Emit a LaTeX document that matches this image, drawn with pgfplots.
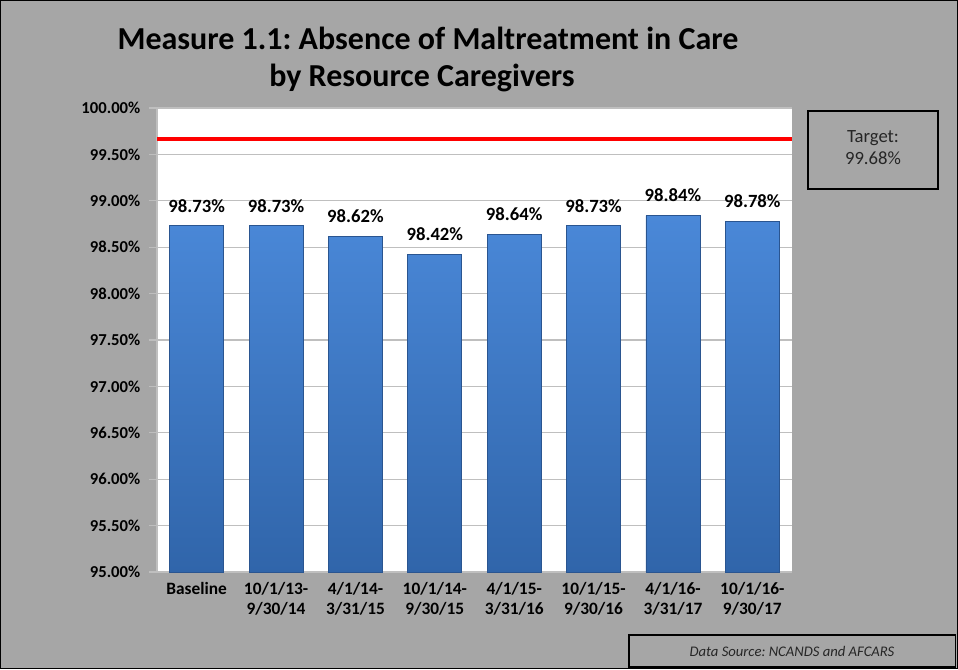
\documentclass[border=0pt]{standalone}
\usepackage{pgfplots}
\pgfplotsset{compat=1.18}
\usepackage{fontspec}
\setmainfont{Carlito}
\frenchspacing
\definecolor{bgc}{HTML}{A6A6A6}
\definecolor{bartop}{HTML}{4A88D8}
\definecolor{barbot}{HTML}{3065AA}
\definecolor{baredge}{HTML}{2A5590}
\definecolor{gridc}{HTML}{BFBFBF}
\begin{document}
\begin{tikzpicture}[x=1pt,y=1pt]
\fill[bgc] (0,0) rectangle (718.5,501.75);
\draw[black,line width=0.8pt] (0.4,0.4) rectangle (718.1,501.35);
\node[font=\fontsize{24}{28}\selectfont\bfseries,anchor=center] at (321,473) {Measure 1.1: Absence of Maltreatment in Care};
\node[font=\fontsize{24}{28}\selectfont\bfseries,anchor=center] at (316.5,443) {by Resource Caregivers};
\begin{axis}[
  at={(117.75pt,72.75pt)}, anchor=south west,
  scale only axis, width=476.25pt, height=348pt,
  axis background/.style={fill=white},
  ymin=95, ymax=100,
  ytick={95,95.5,...,100},
  xmin=-0.5, xmax=7.5,
  xtick={0,...,7},
  xticklabels={Baseline,{10/1/13-\\9/30/14},{4/1/14-\\3/31/15},{10/1/14-\\9/30/15},{4/1/15-\\3/31/16},{10/1/15-\\9/30/16},{4/1/16-\\3/31/17},{10/1/16-\\9/30/17}},
  xticklabel style={align=center,font=\fontsize{13}{15}\selectfont\bfseries,yshift=2pt},
  yticklabel style={font=\fontsize{12.5}{15}\selectfont\bfseries,xshift=-3pt},
  /pgf/number format/assume math mode=true,
  yticklabel={\pgfmathprintnumber[fixed,fixed zerofill,precision=2]{\tick}\%},
  ymajorgrids, grid style={gridc,line width=0.8pt},
  axis line style={draw=none},
  axis x line*=bottom, axis y line*=left,
  tick align=outside,
  major tick length=6pt,
  tick style={gridc,line width=0.8pt},
  xtick style={draw=none},
  enlargelimits=false,
  clip=false,
  ybar, bar width=40.5pt,
  nodes near coords={\pgfmathprintnumber[fixed,fixed zerofill,precision=2]{\pgfplotspointmeta}\%},
  nodes near coords style={font=\fontsize{14}{16}\selectfont\bfseries,black,yshift=6.5pt},
  point meta=explicit,
]
\draw[gridc,line width=1pt] (axis cs:-0.5,95) -- (axis cs:-0.5,100);
\addplot[draw=baredge,line width=0.6pt,top color=bartop,bottom color=barbot] table[x=x,y=y,meta=y] {
x y
0 98.73
1 98.73
2 98.62
3 98.42
4 98.64
5 98.73
6 98.84
7 98.78
};
\end{axis}
\begin{axis}[
  at={(117.75pt,72.75pt)}, anchor=south west,
  scale only axis, width=476.25pt, height=348pt,
  ymin=95, ymax=100, xmin=-0.5, xmax=7.5,
  hide axis, enlargelimits=false,
]
\addplot[red,line width=2.4pt] coordinates {(-0.5,99.665) (7.5,99.665)};
\end{axis}
\draw[black,line width=1pt,fill=bgc] (606,360) rectangle (703.5,418.5);
\node[align=center,font=\fontsize{14}{17}\selectfont,text=black!85] at (654.75,391) {Target:\\99.68\%};
\draw[black,line width=1pt] (471.75,1.5) rectangle (716.5,25.5);
\node[font=\fontsize{11}{13}\selectfont\itshape,text=black!85] at (594,13.5) {Data Source: NCANDS and AFCARS};
\end{tikzpicture}
\end{document}
